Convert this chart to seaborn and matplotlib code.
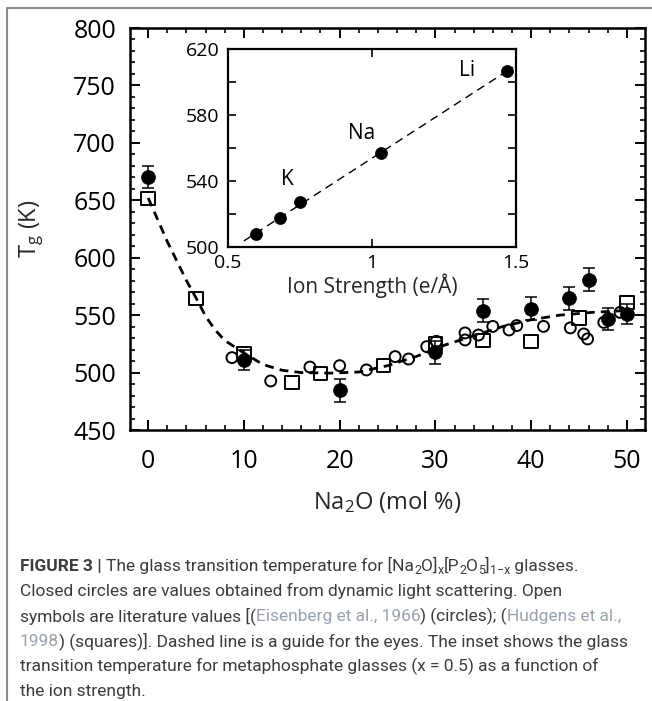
import numpy as np
import pandas as pd
import matplotlib
matplotlib.use("Agg")
import matplotlib.pyplot as plt
from matplotlib.ticker import MultipleLocator
from matplotlib.lines import Line2D
import seaborn as sns

# ---------------- data ----------------
# Closed circles: dynamic light scattering
dls_x = [0, 10, 20, 30, 35, 40, 44, 46, 48, 50]
dls_tg = [670.5, 511, 484.5, 517.5, 554, 555.5, 564.5, 581, 546.5, 551]
dls_err = [9.5, 9, 10, 10, 10, 10, 10, 10, 9.5, 9]

# Open circles: Eisenberg et al., 1966
eis_x = [8.75, 12.8, 16.9, 20.0, 22.8, 25.8, 27.2, 29.1, 30.1, 33.1, 33.1, 34.5,
         36.0, 37.7, 38.5, 41.3, 44.1, 45.5, 45.9, 47.6, 49.3]
eis_tg = [513, 492.7, 504.8, 506, 502.3, 513.9, 511.8, 522.6, 527.2, 534.5, 528.4,
          532.7, 540.2, 537.1, 540.9, 540.2, 538.9, 533.6, 529.3, 543.7, 552.4]

# Open squares: Hudgens et al., 1998
hud_x = [0, 5, 10, 15, 18, 24.6, 30, 35, 40, 45, 50]
hud_tg = [651.7, 564.6, 516.2, 491.5, 499.3, 506, 525.4, 527.8, 527.2, 547.6, 561]

# Dashed guide line
guide_x = [0, 1, 2, 3, 4, 5, 6, 7, 8, 10, 12, 14, 16, 19, 22, 25, 28, 31,
           34, 37, 40, 43, 46.5, 50]
guide_tg = [652, 633, 614, 597, 580, 565, 549, 537, 528, 517, 507, 502, 500,
            499.5, 500.5, 506, 514, 524, 532, 540, 546, 550, 552.5, 554]

# Inset: Tg vs ion strength
ion_strength = [0.598, 0.68, 0.751, 1.03, 1.47]
ion_tg = [507.6, 517.4, 527.4, 557, 606.6]
ion_names = ["K", "Na", "Li"]
ion_label_x = [0.705, 0.963, 1.33]
ion_label_y = [541, 568.5, 607]
fit_range = [0.555, 1.49]

main_xticks = [0, 10, 20, 30, 40, 50]
main_yticks = [450, 500, 550, 600, 650, 700, 750, 800]
inset_xticks = [0.5, 1, 1.5]
inset_xticklabels = ["0.5", "1", "1.5"]
inset_yticks = [500, 540, 580, 620]

# ---------------- style ----------------
sns.set_theme(style="white")
plt.rcParams["font.family"] = ["Open Sans", "DejaVu Sans"]
plt.rcParams["mathtext.fontset"] = "custom"
plt.rcParams["mathtext.rm"] = "Open Sans"
plt.rcParams["mathtext.it"] = "Open Sans:italic"
plt.rcParams["mathtext.bf"] = "Open Sans:bold"
plt.rcParams["axes.edgecolor"] = "black"
plt.rcParams["text.color"] = "black"
plt.rcParams["xtick.color"] = "black"
plt.rcParams["ytick.color"] = "black"

W, H = 652, 701
fig = plt.figure(figsize=(W / 100, H / 100), dpi=100)
fig.patch.set_facecolor("white")

def fx(px):
    return px / W

def fy(py):
    return 1 - py / H

# main axes: left 130, right 645, top 28, bottom 430 (pixels)
ax = fig.add_axes([fx(130), fy(430), (645 - 130) / W, (430 - 28) / H])

df_dls = pd.DataFrame({"x": dls_x, "tg": dls_tg, "err": dls_err})
df_eis = pd.DataFrame({"x": eis_x, "tg": eis_tg})
df_hud = pd.DataFrame({"x": hud_x, "tg": hud_tg})
df_guide = pd.DataFrame({"x": guide_x, "tg": guide_tg})

sns.lineplot(data=df_guide, x="x", y="tg", ax=ax, sort=False, estimator=None,
             color="black", linewidth=2.0, linestyle=(0, (3.2, 2.2)), zorder=2)
ax.errorbar(df_dls["x"], df_dls["tg"], yerr=df_dls["err"], fmt="none",
            ecolor="black", elinewidth=1.1, capsize=4, capthick=1.1, zorder=3)
sns.scatterplot(data=df_eis, x="x", y="tg", ax=ax, marker="o", s=62,
                facecolor="none", edgecolor="black", linewidth=1.4, zorder=4)
sns.scatterplot(data=df_hud, x="x", y="tg", ax=ax, marker="s", s=95,
                facecolor="none", edgecolor="black", linewidth=1.4, zorder=4)
sns.scatterplot(data=df_dls, x="x", y="tg", ax=ax, marker="o", s=100,
                color="black", edgecolor="black", linewidth=0.5, zorder=5)

ax.set_xlim(-1.9, 51.9)
ax.set_ylim(450, 800)
ax.set_xticks(main_xticks)
ax.set_yticks(main_yticks)
ax.xaxis.set_minor_locator(MultipleLocator(2))
ax.yaxis.set_minor_locator(MultipleLocator(10))
ax.tick_params(which="both", direction="in", top=True, right=True,
               bottom=True, left=True)
ax.tick_params(which="major", length=7, width=1.4, labelsize=18)
ax.tick_params(axis="y", which="major", pad=10)
ax.tick_params(axis="x", which="major", pad=14)
ax.tick_params(which="minor", length=3.5, width=1.2)
for s in ax.spines.values():
    s.set_linewidth(1.8)
    s.set_color("black")

ax.set_xlabel("Na$_2$O (mol %)", fontsize=17)
ax.set_ylabel("T$_\\mathrm{g}$ (K)", fontsize=17)
ax.xaxis.label.set_va("center")
ax.yaxis.label.set_va("center")
ax.xaxis.set_label_coords(0.5, (430 - 502) / 402)
ax.yaxis.set_label_coords((32 - 130) / 515, 0.5)

# inset axes: left 228, right 516, top 49, bottom 247
ins = fig.add_axes([fx(228), fy(247), (516 - 228) / W, (247 - 49) / H])
df_ion = pd.DataFrame({"s": ion_strength, "tg": ion_tg})
slope, intercept = np.polyfit(ion_strength, ion_tg, 1)
df_fit = pd.DataFrame({"s": fit_range,
                       "tg": [slope * v + intercept for v in fit_range]})
sns.lineplot(data=df_fit, x="s", y="tg", ax=ins, sort=False, estimator=None,
             color="black", linewidth=1.0, linestyle=(0, (6, 4)), zorder=2)
sns.scatterplot(data=df_ion, x="s", y="tg", ax=ins, marker="o", s=75,
                color="black", edgecolor="black", linewidth=0.5, zorder=3)
for name, lx, ly in zip(ion_names, ion_label_x, ion_label_y):
    ins.text(lx, ly, name, fontsize=15, ha="center", va="center")

ins.set_xlim(0.5, 1.5)
ins.set_ylim(500, 620)
ins.set_xticks(inset_xticks)
ins.set_xticklabels(inset_xticklabels)
ins.set_yticks(inset_yticks)
ins.yaxis.set_minor_locator(MultipleLocator(20))
ins.tick_params(which="both", direction="in", top=True, right=True,
                bottom=True, left=True)
ins.tick_params(which="major", length=6, width=1.2, labelsize=14)
ins.tick_params(axis="y", which="major", pad=6)
ins.tick_params(axis="x", which="major", pad=5)
ins.tick_params(which="minor", length=6, width=1.2)
for s in ins.spines.values():
    s.set_linewidth(1.6)
    s.set_color("black")
ins.set_xlabel("Ion Strength (e/Å)", fontsize=15)
ins.set_ylabel("")
ins.xaxis.label.set_va("center")
ins.xaxis.set_label_coords(0.5, (247 - 286) / 198)

# ---------------- frame lines ----------------
frame_col = "#8c8c8c"
fig.add_artist(Line2D([fx(7), fx(7)], [fy(8), 0], color=frame_col, lw=1.5))
fig.add_artist(Line2D([fx(7), 1], [fy(8), fy(8)], color=frame_col, lw=1.5))

# ---------------- caption ----------------
cap_family = ["Roboto", "DejaVu Sans"]
cap_fs = 12.5
txt_col = "#3c3c3c"
cite_col = "#98a2ae"
renderer = fig.canvas.get_renderer()

def run_width(s, **kw):
    t1 = fig.text(0, 0, s + "|", **kw)
    w1 = t1.get_window_extent(renderer=renderer).width
    t1.remove()
    t2 = fig.text(0, 0, "|", **kw)
    w2 = t2.get_window_extent(renderer=renderer).width
    t2.remove()
    return w1 - w2

def draw_line(x0, ybase, runs):
    x = x0
    for txt, col, weight, scale, dy in runs:
        kw = dict(fontsize=cap_fs * scale, color=col, fontweight=weight,
                  family=cap_family)
        fig.text(fx(x), fy(ybase + dy), txt, ha="left", va="baseline", **kw)
        x += run_width(txt, **kw)

N = "normal"
line_runs = [
    [("FIGURE 3 | ", txt_col, "bold", 1, 0),
     ("The glass transition temperature for [Na", txt_col, N, 1, 0),
     ("2", txt_col, N, 0.72, 3),
     ("O]", txt_col, N, 1, 0),
     ("x", txt_col, N, 0.72, 3),
     ("[P", txt_col, N, 1, 0),
     ("2", txt_col, N, 0.72, 3),
     ("O", txt_col, N, 1, 0),
     ("5", txt_col, N, 0.72, 3),
     ("]", txt_col, N, 1, 0),
     ("1\u2212x", txt_col, N, 0.72, 3),
     (" glasses.", txt_col, N, 1, 0)],
    [("Closed circles are values obtained from dynamic light scattering. Open",
      txt_col, N, 1, 0)],
    [("symbols are literature values [(", txt_col, N, 1, 0),
     ("Eisenberg et al., 1966", cite_col, N, 1, 0),
     (") (circles); (", txt_col, N, 1, 0),
     ("Hudgens et al.,", cite_col, N, 1, 0)],
    [("1998", cite_col, N, 1, 0),
     (") (squares)]. Dashed line is a guide for the eyes. The inset shows the glass",
      txt_col, N, 1, 0)],
    [("transition temperature for metaphosphate glasses (x = 0.5) as a function of",
      txt_col, N, 1, 0)],
    [("the ion strength.", txt_col, N, 1, 0)],
]
baselines = [571, 596, 621, 646, 671, 696]
for yb, runs in zip(baselines, line_runs):
    draw_line(20, yb, runs)

fig.savefig("out.png", dpi=100, facecolor="white")
